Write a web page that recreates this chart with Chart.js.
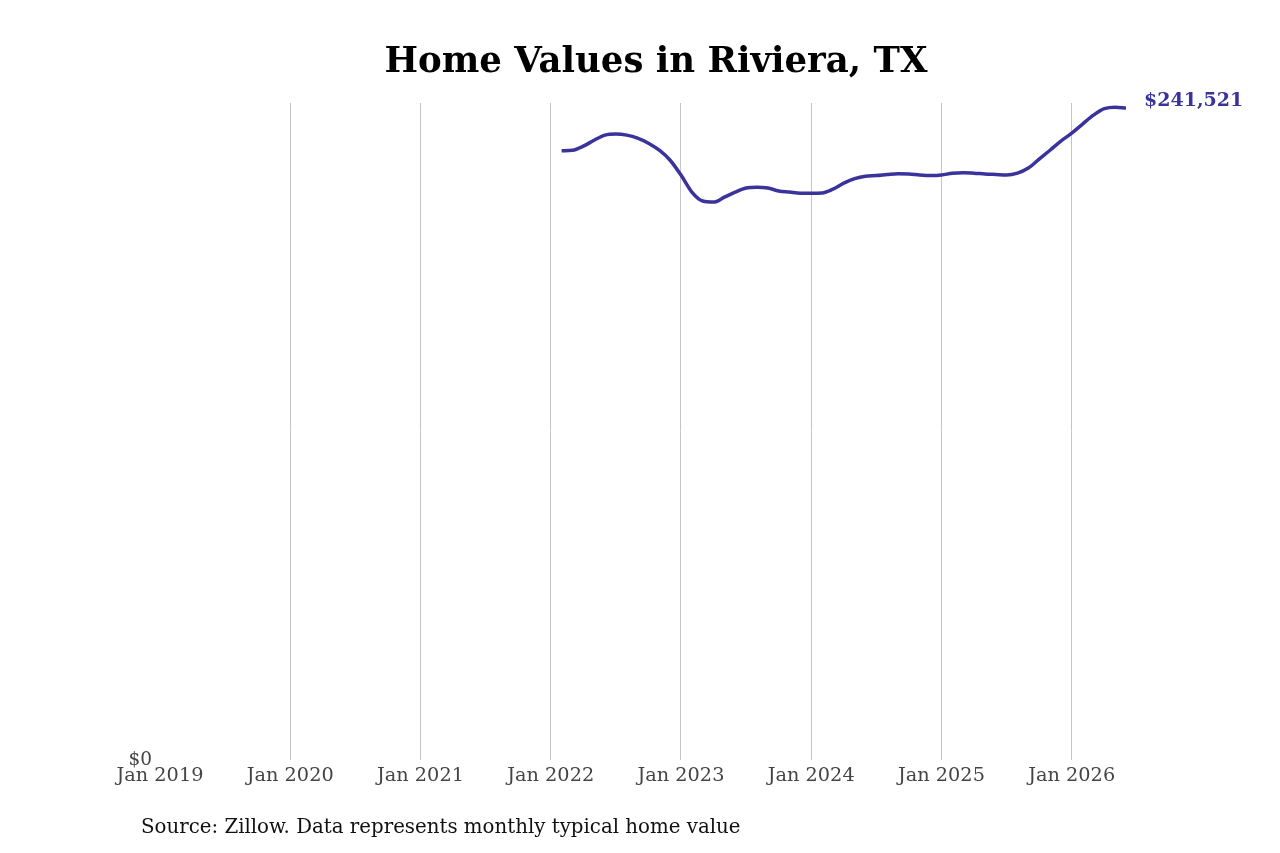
<!DOCTYPE html>
<html>
<head>
<meta charset="utf-8">
<script src="https://cdn.jsdelivr.net/npm/chart.js@4.4.1/dist/chart.umd.min.js"></script>
<style>
  html, body { margin: 0; padding: 0; background: #fff; }
</style>
</head>
<body>
<canvas id="home_chart" width="1280" height="853"></canvas>
<script>
const LINE_COLOR = "#3a339c";

// months counted from Jan 2019 (0)
const tickMonths = [0, 12, 24, 36, 48, 60, 72, 84];
const tickLabels = ["Jan 2019", "Jan 2020", "Jan 2021", "Jan 2022", "Jan 2023", "Jan 2024", "Jan 2025", "Jan 2026"];

// first value is Feb 2022
const firstMonth = 37;
const values = [
  225700, 225900, 227400, 229600, 231500, 231900, 231500, 230400, 228500, 225900, 222200,
  216700, 210400, 207100, 206700, 208500, 210400, 211900, 212200, 211900, 210800, 210400, 210000,
  210000, 210100, 211500, 213700, 215400, 216300, 216500, 216900, 217200, 217100, 216700, 216500,
  216700, 217400, 217600, 217400, 217100, 216900, 216700, 217400, 219300, 222600, 225900, 229300,
  232200, 235600, 238900, 241300, 241870, 241521
];
const lastMonth = 89;
const yMax = 243400;

const points = values.map((v, i) => ({ x: firstMonth + i, y: v }));

const fmt = v => "$" + Math.round(v).toLocaleString("en-US");

const extras = {
  id: "extras",
  afterDatasetsDraw(chart) {
    const ctx = chart.ctx;
    const meta = chart.getDatasetMeta(0);
    const last = meta.data[meta.data.length - 1];
    ctx.save();
    ctx.textBaseline = "middle";

    ctx.font = "bold 35.5px 'DejaVu Serif'";
    ctx.fillStyle = "#000";
    ctx.textAlign = "center";
    ctx.fillText("Home Values in Riviera, TX", 656, 63);

    ctx.textAlign = "left";
    ctx.font = "bold 19px 'DejaVu Serif'";
    ctx.fillStyle = LINE_COLOR;
    ctx.fillText(fmt(values[values.length - 1]), last.x + 18, last.y - 7);

    ctx.font = "19.8px 'DejaVu Serif'";
    ctx.fillStyle = "#111";
    ctx.fillText("Source: Zillow. Data represents monthly typical home value", 141, 828);
    ctx.restore();
  }
};

new Chart(document.getElementById("home_chart"), {
  type: "line",
  data: {
    datasets: [{
      data: points,
      borderColor: LINE_COLOR,
      borderWidth: 3.5,
      pointRadius: 0,
      tension: 0.4,
      cubicInterpolationMode: "monotone",
      fill: false
    }]
  },
  options: {
    responsive: false,
    animation: false,
    devicePixelRatio: 1,
    layout: { padding: { left: 0, right: 154, top: 103, bottom: 0 } },
    plugins: {
      legend: { display: false },
      tooltip: { enabled: false },
      title: { display: false }
    },
    scales: {
      x: {
        type: "linear",
        min: 0,
        max: lastMonth,
        afterBuildTicks: s => { s.ticks = tickMonths.map(v => ({ value: v })); },
        afterFit: s => { s.height = 93; },
        border: { display: false },
        grid: {
          drawTicks: false,
          color: c => (c.tick && c.tick.value === 0) ? "rgba(0,0,0,0)" : "#c4c4c4",
          lineWidth: 1
        },
        ticks: {
          padding: 4,
          color: "#444",
          maxRotation: 0,
          autoSkip: false,
          font: { family: "'DejaVu Serif'", size: 19.3 },
          callback: v => tickLabels[tickMonths.indexOf(v)]
        }
      },
      y: {
        min: 0,
        max: yMax,
        afterBuildTicks: s => { s.ticks = [{ value: 0 }]; },
        afterFit: s => { s.width = 160; },
        border: { display: false },
        grid: { display: false, drawTicks: false },
        ticks: {
          padding: 8,
          color: "#444",
          font: { family: "'DejaVu Serif'", size: 18.5 },
          callback: v => fmt(v)
        }
      }
    }
  },
  plugins: [extras]
});
</script>
</body>
</html>
